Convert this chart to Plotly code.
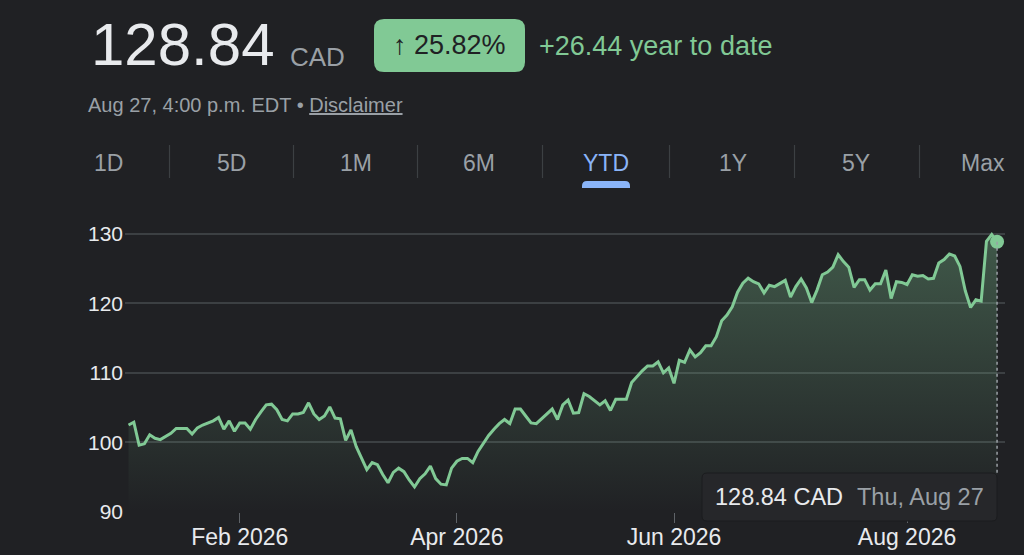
import pandas as pd
import plotly.graph_objects as go

# TSX trading days, Jan 2 - Aug 27 2026
HOLIDAYS = ["2026-01-01", "2026-02-16", "2026-04-03", "2026-05-18", "2026-07-01", "2026-08-03"]
dates = pd.bdate_range("2026-01-02", "2026-08-27", freq="C", holidays=HOLIDAYS)

prices = [
    102.5, 102.9, 99.6, 99.8, 101.1, 100.6, 100.4, 100.9, 101.3, 102.0,
    102.0, 102.0, 101.2, 102.1, 102.5, 102.8, 103.1, 103.6, 101.9, 103.1,
    101.6, 102.8, 102.8, 101.9, 103.3, 104.4, 105.4, 105.5, 104.7, 103.3,
    103.1, 104.1, 104.1, 104.3, 105.7, 104.1, 103.3, 103.8, 105.1, 103.5,
    103.4, 100.3, 101.8, 99.4, 97.8, 96.1, 97.1, 96.8, 95.4, 94.2,
    95.7, 96.3, 95.8, 94.6, 93.6, 94.8, 95.5, 96.6, 94.8, 94.0,
    93.9, 96.3, 97.3, 97.7, 97.7, 97.1, 98.7, 99.9, 101.0, 101.9,
    102.7, 103.3, 102.7, 104.8, 104.8, 103.8, 102.8, 102.7, 103.4, 104.1,
    104.8, 103.3, 105.4, 106.1, 104.2, 104.3, 107.0, 106.6, 106.0, 105.4,
    106.0, 104.6, 106.2, 106.2, 106.2, 108.6, 109.5, 110.3, 111.0, 111.0,
    111.6, 110.0, 110.7, 108.5, 111.8, 111.5, 113.3, 112.3, 112.9, 113.9,
    113.9, 115.2, 117.5, 118.3, 119.5, 121.6, 122.9, 123.6, 123.1, 122.8,
    121.5, 122.6, 122.4, 122.9, 123.3, 120.9, 122.4, 123.5, 122.2, 120.1,
    121.9, 124.1, 124.5, 125.2, 127.0, 126.0, 125.2, 122.3, 123.4, 123.4,
    121.9, 122.8, 122.8, 124.8, 120.7, 123.1, 123.0, 122.7, 124.1, 123.9,
    124.0, 123.5, 123.6, 125.8, 126.3, 127.1, 126.8, 125.3, 121.8, 119.4,
    120.5, 120.3, 128.9, 129.9, 128.84,
]

x_tick_vals = ["2026-02-02", "2026-04-01", "2026-06-01", "2026-08-04"]
x_tick_text = ["Feb 2026", "Apr 2026", "Jun 2026", "Aug 2026"]
y_ticks = [90, 100, 110, 120, 130]

price_text = "128.84"
currency = "CAD"
change_pct = "↑ 25.82%"
change_abs = "+26.44 year to date"
timestamp = "Aug 27, 4:00 p.m. EDT • <u>Disclaimer</u>"
tabs = ["1D", "5D", "1M", "6M", "YTD", "1Y", "5Y", "Max"]
tab_x = [108, 231, 356, 479, 606, 733, 856, 983]
active_tab = "YTD"
tooltip_value = "128.84 CAD"
tooltip_date = "Thu, Aug 27"

BG = "#202124"
GREEN = "#81c995"
GREY = "#9aa0a6"
WHITE = "#e8eaed"
BLUE = "#8ab4f8"
FONT = "Liberation Sans, Arial, sans-serif"

# plot area in pixels
L, R, T, B = 125, 1005, 224, 512


def px(x):
    return (x - L) / (R - L)


def py(y):
    return (B - y) / (B - T)


def rounded(x0, y0, x1, y1, r, bottom=True):
    # rounded rectangle path in paper coords, built from pixel corners
    p = [
        f"M{px(x0 + r)},{py(y0)}",
        f"L{px(x1 - r)},{py(y0)}",
        f"Q{px(x1)},{py(y0)} {px(x1)},{py(y0 + r)}",
    ]
    if bottom:
        p += [
            f"L{px(x1)},{py(y1 - r)}",
            f"Q{px(x1)},{py(y1)} {px(x1 - r)},{py(y1)}",
            f"L{px(x0 + r)},{py(y1)}",
            f"Q{px(x0)},{py(y1)} {px(x0)},{py(y1 - r)}",
        ]
    else:
        p += [f"L{px(x1)},{py(y1)}", f"L{px(x0)},{py(y1)}"]
    p += [f"L{px(x0)},{py(y0 + r)}", f"Q{px(x0)},{py(y0)} {px(x0 + r)},{py(y0)}", "Z"]
    return " ".join(p)


fig = go.Figure()

fig.add_trace(go.Scatter(
    x=dates, y=prices, mode="lines",
    line=dict(color=GREEN, width=3),
    fill="tozeroy",
    fillgradient=dict(type="vertical", start=90, stop=131,
                      colorscale=[[0, "rgba(129,201,149,0)"], [1, "rgba(129,201,149,0.34)"]]),
    hoverinfo="skip",
))
fig.add_trace(go.Scatter(
    x=[dates[-1]], y=[prices[-1]], mode="markers",
    marker=dict(color=GREEN, size=14), hoverinfo="skip",
))

shapes = []
# dotted drop line from the last point to the tooltip
shapes.append(dict(type="line", xref="x", yref="y", x0=dates[-1], x1=dates[-1],
                   y0=prices[-1], y1=95.6, line=dict(color=GREY, width=1.5, dash="dot"),
                   layer="above"))
# tooltip box
shapes.append(dict(type="path", xref="paper", yref="paper",
                   path=rounded(702, 473, 997, 521, 5),
                   fillcolor="#26272a", line=dict(color="#1b1c1e", width=1), layer="above"))
# change pill
shapes.append(dict(type="path", xref="paper", yref="paper",
                   path=rounded(374, 19, 525, 72, 10),
                   fillcolor=GREEN, line=dict(width=0)))
# tab separators
for i in range(len(tab_x) - 1):
    sx = (tab_x[i] + tab_x[i + 1]) / 2
    shapes.append(dict(type="line", xref="paper", yref="paper", x0=px(sx), x1=px(sx),
                       y0=py(145), y1=py(178), line=dict(color="#3c4043", width=1.2)))
# active tab underline
ax_ = tab_x[tabs.index(active_tab)]
shapes.append(dict(type="path", xref="paper", yref="paper",
                   path=rounded(ax_ - 24, 181, ax_ + 24, 188, 5, bottom=False),
                   fillcolor=BLUE, line=dict(width=0)))

ann = []


def text(x, y, s, size, color, anchor="left"):
    ann.append(dict(x=px(x), y=py(y), xref="paper", yref="paper", text=s, showarrow=False,
                    xanchor=anchor, yanchor="middle", font=dict(family=FONT, size=size, color=color)))


text(89, 44, price_text, 60, WHITE)
text(288, 57, currency, 26, GREY)
text(449.5, 45, change_pct, 27, BG, anchor="center")
text(537, 46, change_abs, 27, GREEN)
text(86, 105, timestamp, 20, GREY)
for t, tx in zip(tabs, tab_x):
    text(tx, 163, t, 23, BLUE if t == active_tab else GREY, anchor="center")
text(713, 497, tooltip_value, 23.5, WHITE)
text(855, 497, tooltip_date, 23.5, GREY)

fig.update_layout(
    width=1024, height=555,
    paper_bgcolor=BG, plot_bgcolor=BG,
    margin=dict(l=L, r=1024 - R, t=T, b=555 - B),
    showlegend=False,
    shapes=shapes, annotations=ann,
    font=dict(family=FONT, color=WHITE),
    xaxis=dict(
        type="date",
        range=["2025-12-31 08:00", "2026-08-28 12:00"],
        rangebreaks=[dict(bounds=["sat", "mon"]), dict(values=HOLIDAYS)],
        tickvals=x_tick_vals, ticktext=x_tick_text,
        ticks="outside", ticklen=10, tickcolor="#5f6368", tickwidth=1,
        showgrid=False, zeroline=False, showline=False,
        tickfont=dict(size=23, color=WHITE),
        ticklabelstandoff=-6,
        automargin=False,
    ),
    yaxis=dict(
        range=[90, 131.4],
        tickvals=y_ticks,
        showgrid=True, gridcolor="#3c4043", gridwidth=1.5,
        zeroline=False, showline=False, ticks="",
        tickfont=dict(size=21, color=WHITE),
        ticklabelstandoff=1,
        automargin=False,
    ),
)

fig.write_html(
    "out.html",
    config={"displayModeBar": False, "responsive": False},
    post_script="document.body.style.margin='0';document.body.style.background='#202124';",
)
